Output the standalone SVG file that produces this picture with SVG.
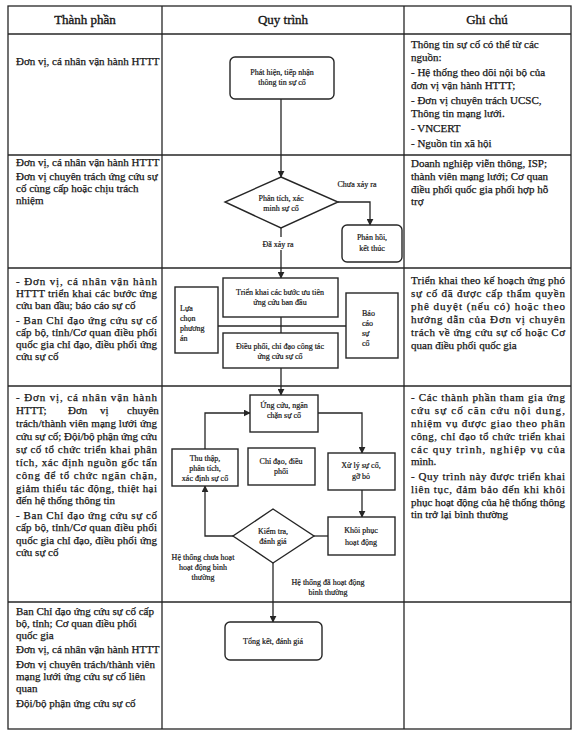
<svg xmlns="http://www.w3.org/2000/svg" width="576" height="737" viewBox="0 0 576 737">
<style>
text{font-family:"Liberation Serif","DejaVu Serif",serif;fill:#161616;stroke:#161616;stroke-width:0.25}
.t{font-size:11px}
.h{font-size:13px;text-anchor:middle;stroke-width:0.35}
.f{font-size:8px;text-anchor:middle;stroke-width:0.2}
.fl{font-size:8px;stroke-width:0.2}
.ln{stroke:#262626;stroke-width:1.3;fill:none}
.bx{stroke:#262626;stroke-width:1.4;fill:#fff}
</style>
<defs>
<marker id="ah" viewBox="0 0 10 10" refX="9" refY="5" markerWidth="7" markerHeight="7" orient="auto" markerUnits="userSpaceOnUse">
<path d="M0,0 L10,5 L0,10 z" fill="#262626"/>
</marker>
</defs>
<rect width="576" height="737" fill="#fff"/>
<g id="table" class="ln">
<rect x="8" y="6" width="563" height="723"/>
<line x1="8" y1="34" x2="571" y2="34"/>
<line x1="162" y1="6" x2="162" y2="729"/>
<line x1="404" y1="6" x2="404" y2="729"/>
<line x1="8" y1="155" x2="571" y2="155"/>
<line x1="8" y1="268" x2="571" y2="268"/>
<line x1="8" y1="386" x2="571" y2="386"/>
<line x1="8" y1="602" x2="571" y2="602"/>
</g>
<g id="header">
<text class="h" x="85" y="24">Thành phần</text>
<text class="h" x="283" y="24">Quy trình</text>
<text class="h" x="487" y="24">Ghi chú</text>
</g>
<g id="col-thanhphan">
<text class="t" x="16" y="65">Đơn vị, cá nhân vận hành HTTT</text>
<text class="t" x="16" y="166">Đơn vị, cá nhân vận hành HTTT</text>
<text class="t" x="16" y="180">Đơn vị chuyên trách ứng cứu sự</text>
<text class="t" x="16" y="192">cố cùng cấp hoặc chịu trách</text>
<text class="t" x="16" y="204">nhiệm</text>
<text class="t" x="16" y="285" textLength="141" lengthAdjust="spacing">- Đơn vị, cá nhân vận hành</text>
<text class="t" x="16" y="297" textLength="141" lengthAdjust="spacing">HTTT triển khai các bước ứng</text>
<text class="t" x="16" y="309">cứu ban đầu; báo cáo sự cố</text>
<text class="t" x="16" y="324" textLength="141" lengthAdjust="spacing">- Ban Chỉ đạo ứng cứu sự cố</text>
<text class="t" x="16" y="336" textLength="141" lengthAdjust="spacing">cấp bộ, tỉnh/Cơ quan điều phối</text>
<text class="t" x="16" y="348" textLength="141" lengthAdjust="spacing">quốc gia chỉ đạo, điều phối ứng</text>
<text class="t" x="16" y="360">cứu sự cố</text>
<text class="t" x="16" y="401" textLength="141" lengthAdjust="spacing">- Đơn vị, cá nhân vận hành</text>
<text class="t" y="414"><tspan x="16">HTTT;</tspan><tspan x="68">Đơn</tspan><tspan x="100">vị</tspan><tspan x="127">chuyên</tspan></text>
<text class="t" x="16" y="427" textLength="141" lengthAdjust="spacing">trách/thành viên mạng lưới ứng</text>
<text class="t" x="16" y="440" textLength="141" lengthAdjust="spacing">cứu sự cố; Đội/bộ phận ứng cứu</text>
<text class="t" x="16" y="453" textLength="141" lengthAdjust="spacing">sự cố tổ chức triển khai phân</text>
<text class="t" x="16" y="466" textLength="141" lengthAdjust="spacing">tích, xác định nguồn gốc tấn</text>
<text class="t" x="16" y="479" textLength="141" lengthAdjust="spacing">công để tổ chức ngăn chặn,</text>
<text class="t" x="16" y="492" textLength="141" lengthAdjust="spacing">giảm thiểu tác động, thiệt hại</text>
<text class="t" x="16" y="504">đến hệ thống thông tin</text>
<text class="t" x="16" y="519" textLength="141" lengthAdjust="spacing">- Ban Chỉ đạo ứng cứu sự cố</text>
<text class="t" x="16" y="531" textLength="141" lengthAdjust="spacing">cấp bộ, tỉnh/Cơ quan điều phối</text>
<text class="t" x="16" y="544" textLength="141" lengthAdjust="spacing">quốc gia chỉ đạo, điều phối ứng</text>
<text class="t" x="16" y="556">cứu sự cố</text>
<text class="t" x="16" y="615">Ban Chỉ đạo ứng cứu sự cố cấp</text>
<text class="t" x="16" y="627">bộ, tỉnh; Cơ quan điều phối</text>
<text class="t" x="16" y="639">quốc gia</text>
<text class="t" x="16" y="653">Đơn vị, cá nhân vận hành HTTT</text>
<text class="t" x="16" y="668">Đơn vị chuyên trách/thành viên</text>
<text class="t" x="16" y="680">mạng lưới ứng cứu sự cố liên</text>
<text class="t" x="16" y="692">quan</text>
<text class="t" x="16" y="707">Đội/bộ phận ứng cứu sự cố</text>
</g>
<g id="col-ghichu">
<text class="t" x="411" y="48">Thông tin sự cố có thể từ các</text>
<text class="t" x="411" y="61">nguồn:</text>
<text class="t" x="411" y="76">- Hệ thống theo dõi nội bộ của</text>
<text class="t" x="411" y="89">đơn vị vận hành HTTT;</text>
<text class="t" x="411" y="104">- Đơn vị chuyên trách UCSC,</text>
<text class="t" x="411" y="117">Thông tin mạng lưới.</text>
<text class="t" x="411" y="132">- VNCERT</text>
<text class="t" x="411" y="147">- Nguồn tin xã hội</text>
<text class="t" x="411" y="167">Doanh nghiệp viễn thông, ISP;</text>
<text class="t" x="411" y="180">thành viên mạng lưới; Cơ quan</text>
<text class="t" x="411" y="193">điều phối quốc gia phối hợp hỗ</text>
<text class="t" x="411" y="205">trợ</text>
<text class="t" x="411" y="284" textLength="154" lengthAdjust="spacing">Triển khai theo kế hoạch ứng phó</text>
<text class="t" x="411" y="297" textLength="154" lengthAdjust="spacing">sự cố đã được cấp thẩm quyền</text>
<text class="t" x="411" y="310" textLength="154" lengthAdjust="spacing">phê duyệt (nếu có) hoặc theo</text>
<text class="t" x="411" y="323" textLength="154" lengthAdjust="spacing">hướng dẫn của Đơn vị chuyên</text>
<text class="t" x="411" y="336" textLength="154" lengthAdjust="spacing">trách về ứng cứu sự cố hoặc Cơ</text>
<text class="t" x="411" y="349">quan điều phối quốc gia</text>
<text class="t" x="411" y="401" textLength="154" lengthAdjust="spacing">- Các thành phần tham gia ứng</text>
<text class="t" x="411" y="414" textLength="154" lengthAdjust="spacing">cứu sự cố căn cứu nội dung,</text>
<text class="t" x="411" y="427" textLength="154" lengthAdjust="spacing">nhiệm vụ được giao theo phân</text>
<text class="t" x="411" y="440" textLength="154" lengthAdjust="spacing">công, chỉ đạo tổ chức triển khai</text>
<text class="t" x="411" y="453" textLength="154" lengthAdjust="spacing">các quy trình, nghiệp vụ của</text>
<text class="t" x="411" y="465">mình.</text>
<text class="t" x="411" y="480" textLength="154" lengthAdjust="spacing">- Quy trình này được triển khai</text>
<text class="t" x="411" y="493" textLength="154" lengthAdjust="spacing">liên tục, đảm bảo đến khi khôi</text>
<text class="t" x="411" y="506" textLength="154" lengthAdjust="spacing">phục hoạt động của hệ thống thông</text>
<text class="t" x="411" y="518">tin trở lại bình thường</text>
</g>
<g id="connectors" class="ln">
<line x1="281" y1="99" x2="281" y2="177" marker-end="url(#ah)"/>
<polyline points="338,202 370,202 370,225" marker-end="url(#ah)"/>
<line x1="281" y1="228" x2="281" y2="237"/>
<line x1="281" y1="250" x2="281" y2="278" marker-end="url(#ah)"/>
<line x1="281" y1="317" x2="281" y2="333"/>
<line x1="218" y1="326" x2="346" y2="326"/>
<line x1="281" y1="368" x2="281" y2="395" marker-end="url(#ah)"/>
<polyline points="318,413 362,413 362,453" marker-end="url(#ah)"/>
<line x1="362" y1="490" x2="362" y2="517" marker-end="url(#ah)"/>
<line x1="328" y1="536" x2="314" y2="536"/>
<polyline points="233,536 205,536 205,486" marker-end="url(#ah)"/>
<polyline points="205,449 205,413 250,413" marker-end="url(#ah)"/>
<line x1="273" y1="563" x2="273" y2="622" marker-end="url(#ah)"/>
</g>
<g id="n-phathien">
<rect class="bx" x="230" y="57" width="104" height="42" rx="5"/>
<text class="f" x="282" y="75">Phát hiện, tiếp nhận</text>
<text class="f" x="282" y="85">thông tin sự cố</text>
</g>
<g id="n-phantich">
<polygon class="bx" points="281,177 338,202 281,228 225,202"/>
<text class="f" x="281" y="201">Phân tích, xác</text>
<text class="f" x="281" y="211">minh sự cố</text>
</g>
<g id="n-phanhoi">
<rect class="bx" x="342" y="225" width="60" height="37" rx="5"/>
<text class="f" x="372" y="240">Phản hồi,</text>
<text class="f" x="372" y="251">kết thúc</text>
</g>
<g id="labels">
<text class="f" x="357" y="187">Chưa xảy ra</text>
<text class="f" x="278" y="247">Đã xảy ra</text>
<text class="f" x="203" y="560">Hệ thống chưa hoạt</text>
<text class="f" x="203" y="570">hoạt động bình</text>
<text class="f" x="203" y="580">thường</text>
<text class="f" x="328" y="585">Hệ thống đã hoạt động</text>
<text class="f" x="328" y="595">bình thường</text>
</g>
<g id="n-trienkhai">
<rect class="bx" x="223" y="278" width="115" height="39"/>
<text class="f" x="280" y="295">Triển khai các bước ưu tiên</text>
<text class="f" x="280" y="305">ứng cứu ban đầu</text>
</g>
<g id="n-dieuphoi">
<rect class="bx" x="223" y="333" width="115" height="35"/>
<text class="f" x="280" y="349">Điều phối, chỉ đạo công tác</text>
<text class="f" x="280" y="359">ứng cứu sự cố</text>
</g>
<g id="n-luachon">
<rect class="bx" x="175" y="287" width="43" height="66"/>
<text class="fl" x="180" y="311">Lựa</text>
<text class="fl" x="180" y="321">chọn</text>
<text class="fl" x="180" y="331">phương</text>
<text class="fl" x="180" y="341">án</text>
</g>
<g id="n-baocao">
<rect class="bx" x="346" y="293" width="52" height="65"/>
<text class="fl" x="362" y="316">Báo</text>
<text class="fl" x="362" y="326">cáo</text>
<text class="fl" x="362" y="336">sự</text>
<text class="fl" x="362" y="346">cố</text>
</g>
<g id="n-ungcuu">
<rect class="bx" x="250" y="395" width="68" height="37"/>
<text class="f" x="284" y="408">Ứng cứu, ngăn</text>
<text class="f" x="284" y="418">chặn sự cố</text>
</g>
<g id="n-thuthap">
<rect class="bx" x="172" y="449" width="66" height="37"/>
<text class="f" x="205" y="461">Thu thập,</text>
<text class="f" x="205" y="471">phân tích,</text>
<text class="f" x="205" y="481">xác định sự cố</text>
</g>
<g id="n-chidao">
<rect class="bx" x="248" y="448" width="67" height="37"/>
<text class="f" x="281" y="464">Chỉ đạo, điều</text>
<text class="f" x="281" y="474">phối</text>
</g>
<g id="n-xuly">
<rect class="bx" x="328" y="453" width="67" height="37"/>
<text class="f" x="361" y="468">Xử lý sự cố,</text>
<text class="f" x="361" y="479">gỡ bỏ</text>
</g>
<g id="n-khoiphuc">
<rect class="bx" x="328" y="517" width="67" height="38"/>
<text class="f" x="361" y="533">Khôi phục</text>
<text class="f" x="361" y="545">hoạt động</text>
</g>
<g id="n-kiemtra">
<polygon class="bx" points="273,509 314,536 273,563 233,536"/>
<text class="f" x="273" y="534">Kiểm tra,</text>
<text class="f" x="273" y="544">đánh giá</text>
</g>
<g id="n-tongket">
<rect class="bx" x="225" y="622" width="97" height="38" rx="5"/>
<text class="f" x="273" y="644">Tổng kết, đánh giá</text>
</g>
</svg>
